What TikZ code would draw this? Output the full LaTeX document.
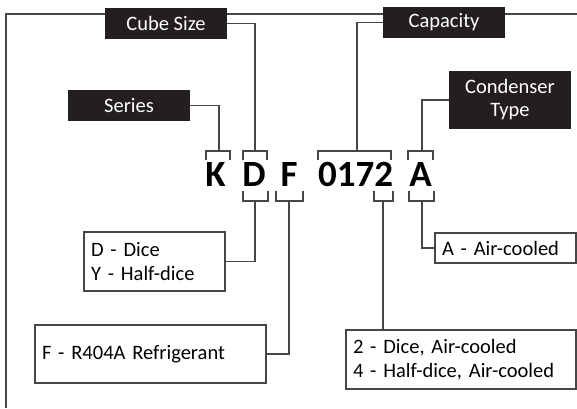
\documentclass[tikz,border=0pt]{standalone}
\usepackage{fontspec}
\setmainfont{Carlito}
\usepackage{tikz}
\usetikzlibrary{calc}
\usepackage{xcolor}
\definecolor{tagblack}{RGB}{35,31,32}
\definecolor{wiregray}{RGB}{70,70,70}

\tikzset{
  wire/.style={wiregray,line width=1.1pt},
  tag/.style={fill=tagblack,text=white,minimum width=122pt,minimum height=31pt,inner sep=0pt,
    font=\fontsize{20.5}{23}\selectfont,align=center},
  note/.style={draw=wiregray,line width=1.1pt,fill=white,inner xsep=7pt,inner ysep=0pt,
    font=\fontsize{20.5}{24}\selectfont,align=left},
  code/.style={font=\fontsize{37}{37}\selectfont\bfseries,anchor=base,inner sep=0pt}
}

\begin{document}
\begin{tikzpicture}[x=1pt,y=-1pt,line join=miter]
  \useasboundingbox (0,0) rectangle (577,408);
  % frame
  \draw[wire] (577,14) -- (6,14) -- (6,408);
  % labels above
  \node[tag] (cube) at (166,23.5) {Cube Size};
  \node[tag] (series) at (129,105.5) {Series};
  \node[tag] (capacity) at (444,22.5) {Capacity};
  \node[tag,minimum height=58pt] (condenser) at (510,100) {Condenser\\Type};
  % model code
  \node[code] (k) at (215.5,186.5) {K};
  \node[code] (d) at (254,186.5) {D};
  \node[code] (f) at (289,186.5) {F};
  \node[code] (num) at (355.5,186.5) {0172};
  \node[code] (a) at (420.5,186.5) {A};
  % brackets
  \foreach \a/\b in {206/230,243/267,318/391,408/433}
    \draw[wire] (\a,160) -- (\a,151) -- (\b,151) -- (\b,160);
  \foreach \a/\b in {243/268,276/303,374/393,409/434}
    \draw[wire] (\a,191) -- (\a,201) -- (\b,201) -- (\b,191);
  \coordinate (kt) at (219,151); \coordinate (dt) at (255,151);
  \coordinate (nt) at (357,151); \coordinate (at) at (422,151);
  \coordinate (db) at (255,201); \coordinate (fb) at (289,201);
  \coordinate (nb) at (383,201); \coordinate (ab) at (422,201);
  % notes below
  \node[note,text width=127pt,minimum height=59pt] (dice) at (154.5,261.5) {D - Dice\\Y - Half-dice};
  \node[note,text width=217pt,minimum height=58pt] (refrig) at (150.5,354) {F - R404A Refrigerant};
  \node[note,text width=127pt,minimum height=30pt] (air) at (505.5,248) {A - Air-cooled};
  \node[note,text width=216pt,minimum height=59pt] (size) at (461,359.5) {2 - Dice, Air-cooled\\4 - Half-dice, Air-cooled};
  % connectors
  \draw[wire] (cube.east) -| (dt);
  \draw[wire] (series.east) -| (kt);
  \draw[wire] (capacity.west) -| (nt);
  \draw[wire] (condenser.west) -| (at);
  \draw[wire] (db) |- (dice.east);
  \draw[wire] (fb) |- (refrig.east);
  \draw[wire] (nb) -- (nb |- size.north);
  \draw[wire] (ab) |- (air.west);
\end{tikzpicture}
\end{document}
